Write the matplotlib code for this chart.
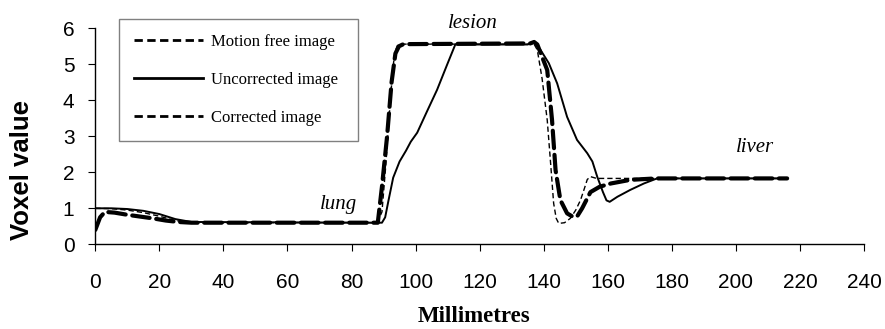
import matplotlib
matplotlib.use("Agg")
import matplotlib.pyplot as plt
from matplotlib.lines import Line2D

# ---- data ----
motion_x = [0, 5, 10, 15, 20, 25, 30, 88, 89.5, 90.7, 91.8, 92.9, 93.6, 94.3, 95.5,
            137, 138, 139.5, 141.1, 142.2, 143.1, 143.9, 144.7, 146.5, 148.3, 150, 151.5,
            152.7, 153.6, 154.6, 156.5, 216]
motion_y = [1.0, 0.99, 0.95, 0.88, 0.78, 0.66, 0.6, 0.6, 0.9, 2.2, 3.6, 4.9, 5.35, 5.52, 5.56,
            5.56, 5.4, 4.6, 3.45, 2.2, 1.14, 0.72, 0.58, 0.6, 0.72, 0.95, 1.23,
            1.55, 1.8, 1.88, 1.83, 1.83]

uncorr_x = [0, 5, 10, 15, 20, 25, 30, 89.5, 90.5, 91.5, 93, 95, 97, 98.5, 100.5, 103.5,
            106.7, 109.8, 112.4, 135, 136.8, 139, 141.6, 144.2, 147.3, 150.4,
            153.6, 155.2, 156.7, 158.5, 159.6, 160.6, 163, 167, 171.3, 175.4, 216]
uncorr_y = [1.0, 1.0, 0.98, 0.93, 0.84, 0.7, 0.62, 0.6, 0.75, 1.2, 1.85, 2.3, 2.6, 2.85, 3.1, 3.68,
            4.29, 4.98, 5.55, 5.55, 5.62, 5.4, 5.03, 4.47, 3.54, 2.9,
            2.53, 2.3, 1.88, 1.45, 1.22, 1.18, 1.32, 1.51, 1.69, 1.83, 1.83]

corr_x = [0, 1.5, 3, 6, 10, 14, 18, 22, 26, 30, 88.2, 89.5, 91.1, 92.5, 93.7, 94.8, 96.2,
          135.8, 137, 138, 141.1, 142.6, 143.7, 145.2, 147.3, 148.8, 150.4, 152, 154.6,
          157.5, 161, 167, 175, 216]
corr_y = [0.4, 0.75, 0.9, 0.88, 0.82, 0.77, 0.72, 0.66, 0.62, 0.6, 0.6, 1.6, 3.0, 4.5, 5.3, 5.5, 5.56,
          5.58, 5.62, 5.55, 4.84, 3.45, 2.06, 1.23, 0.86, 0.78, 0.77, 1.0, 1.45,
          1.6, 1.69, 1.79, 1.83, 1.83]

labels = ["Motion free image", "Uncorrected image", "Corrected image"]
region_names = ["lung", "lesion", "liver"]
region_x = [75.8, 118.0, 205.8]
region_y = [0.97, 6.01, 2.57]

xticks = list(range(0, 241, 20))
yticks = list(range(0, 7))

# ---- figure ----
fig = plt.figure(figsize=(8.85, 3.29), dpi=100)
ax = fig.add_axes([95.3 / 885, 84.7 / 329, 768.7 / 885, 216 / 329])

ax.plot(uncorr_x, uncorr_y, color="black", lw=1.4, solid_joinstyle="round", zorder=3)
ax.plot(corr_x, corr_y, color="black", lw=3.0, linestyle=(0, (4.2, 1.6)),
        dash_capstyle="round", zorder=2)
ax.plot(motion_x, motion_y, color="black", lw=1.0, linestyle=(0, (3.8, 2.2)), zorder=4)

ax.set_xlim(0, 240)
ax.set_ylim(0, 6)
ax.set_xticks(xticks)
ax.set_yticks(yticks)

for s in ["top", "right"]:
    ax.spines[s].set_visible(False)
for s in ["left", "bottom"]:
    ax.spines[s].set_linewidth(1.0)

ax.tick_params(axis="both", direction="out", length=5, width=0.8, labelsize=15)
ax.tick_params(axis="x", pad=16)
ax.tick_params(axis="y", pad=10)
for t in ax.get_xticklabels() + ax.get_yticklabels():
    t.set_fontfamily("Liberation Sans")

ax.set_ylabel("Voxel value", fontsize=18.5, fontweight="bold",
              family="Liberation Sans", va="center")
ax.yaxis.set_label_coords(-0.0954, 0.344)
ax.set_xlabel("Millimetres", fontsize=16.5, fontweight="bold",
              family="Liberation Serif", va="center")
ax.xaxis.set_label_coords(0.4927, -0.335)

for name, tx, ty in zip(region_names, region_x, region_y):
    ax.text(tx, ty, name, fontsize=15, style="italic", family="Liberation Serif",
            ha="center", va="baseline")

handles = [
    Line2D([], [], color="black", lw=2.0, linestyle=(0, (3.0, 1.6))),
    Line2D([], [], color="black", lw=2.0),
    Line2D([], [], color="black", lw=2.0, linestyle=(0, (3.0, 1.6))),
]
leg = ax.legend(handles, labels, loc="upper left",
                bbox_to_anchor=(0.0312, 1.0417, 0.311, 0.0), mode="expand",
                prop={"family": "Liberation Serif", "size": 12},
                frameon=True, fancybox=False, shadow=False, framealpha=1,
                edgecolor="#808080", borderpad=0.9, labelspacing=1.3,
                handlelength=4.1, handletextpad=0.5, borderaxespad=0)
leg.get_frame().set_linewidth(1.0)

fig.savefig("out.png", dpi=100)
